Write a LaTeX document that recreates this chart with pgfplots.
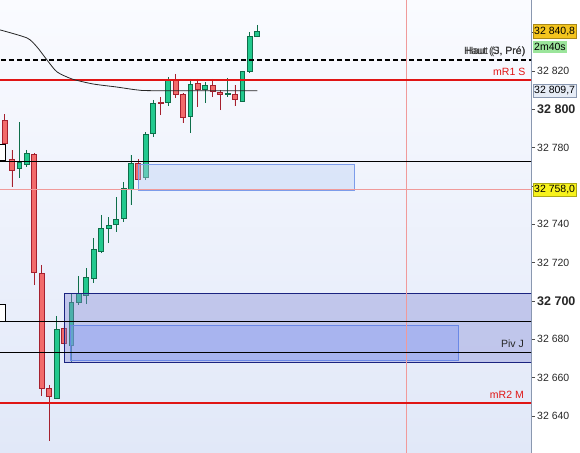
\documentclass[border=0pt]{standalone}
\usepackage{fontspec}
\setmainfont{Liberation Sans}
\usepackage{pgfplots}
\pgfplotsset{compat=1.18}
\usepgfplotslibrary{statistics}

\definecolor{gfill}{HTML}{22C98E}
\definecolor{gdark}{HTML}{0E6E4A}
\definecolor{rfill}{HTML}{F26B6B}
\definecolor{rdark}{HTML}{A5202E}
\definecolor{bgtop}{HTML}{FAFBFF}
\definecolor{bgbot}{HTML}{E1E8F8}
\definecolor{bigbox}{RGB}{134,140,214}
\definecolor{innerbox}{RGB}{132,155,246}
\definecolor{lightbox}{RGB}{187,208,246}
\definecolor{navy}{HTML}{1A2380}
\definecolor{innerborder}{HTML}{6A88E6}
\definecolor{lightborder}{HTML}{7C9CEA}
\definecolor{lred}{HTML}{E01515}
\definecolor{pinkline}{HTML}{F09A9A}
\definecolor{axisgray}{HTML}{8A98B0}
\definecolor{goldlab}{HTML}{F3C41E}
\definecolor{yellowlab}{HTML}{F7F21C}
\definecolor{greenlab}{HTML}{9BE59B}
\definecolor{graylab}{HTML}{E6ECF6}

% prices are stored as offsets from 32 700
% #1 position, #2 body low, #3 body high, #4 low, #5 high, #6 g or r
\newcommand{\candle}[6]{%
  \addplot[draw=#6dark, fill=#6fill, line width=0.8pt,
    boxplot prepared={draw position=#1, lower whisker=#4, lower quartile=#2,
      median=#2, upper quartile=#3, upper whisker=#5}] coordinates {};}

\begin{document}
\begin{tikzpicture}
\begin{axis}[
  name=ax, at={(0,0)}, anchor=south west,
  scale only axis, width=531pt, height=453pt,
  xmin=-0.605, xmax=70.81, ymin=-79.3, ymax=157.0,
  axis x line=none, axis y line*=right,
  axis line style={-, draw=axisgray, line width=0.9pt},
  axis background/.style={top color=bgtop, bottom color=bgbot},
  clip mode=individual,
  boxplot/draw direction=y,
  boxplot/box extend=0.66, boxplot/whisker extend=0,
  ytick={-60,-40,-20,0,20,40,60,80,100,120,140},
  yticklabels={32 640, 32 660, 32 680, {\fontsize{12.5}{13}\selectfont\bfseries 32 700}, 32 720, 32 740, {}, 32 780, {\fontsize{12.5}{13}\selectfont\bfseries 32 800}, 32 820, {}},
  yticklabel style={font=\fontsize{10.5}{12}\selectfont, text=black!85, anchor=west, inner sep=2pt},
  tick align=outside, major tick length=4pt,
  tick style={draw=black!70, line width=0.6pt},
]
% candles
\candle{0}{82.4}{94.4}{81.9}{97.5}{r}
\candle{1}{68.3}{73.6}{59.5}{78.8}{r}
\candle{2}{68.9}{72.5}{64.2}{93.4}{g}
\candle{3}{71.5}{77.2}{69.9}{78.8}{g}
\candle{4}{15.1}{76.7}{8.3}{77.2}{r}
\candle{5}{-45.4}{14.6}{-49.6}{18.8}{r}
\candle{6}{-49.6}{-45.4}{-73.0}{-43.8}{r}
\candle{7}{-50.6}{-14.6}{-51.1}{-7.8}{g}
\candle{8}{-21.9}{-14.1}{-23.0}{-13.0}{r}
\candle{9}{-23.0}{-0.5}{-32.3}{3.7}{g}
\candle{10}{-0.5}{4.2}{-2.1}{13.0}{g}
\candle{11}{3.1}{12.5}{-1.6}{17.2}{g}
\candle{12}{12.0}{27.1}{9.4}{32.9}{g}
\candle{13}{26.1}{37.6}{25.0}{44.9}{g}
\candle{14}{38.1}{39.6}{30.3}{43.8}{g}
\candle{15}{40.2}{42.8}{36.0}{54.3}{g}
\candle{16}{43.3}{58.9}{41.2}{62.1}{g}
\candle{17}{58.4}{72.0}{50.1}{76.2}{g}
\candle{18}{63.6}{72.0}{63.6}{74.1}{r}
\candle{19}{64.2}{87.1}{63.1}{88.0}{g}
\candle{20}{87.6}{103.3}{85.6}{104.9}{g}
\candle{21}{103.3}{103.8}{97.0}{106.4}{r}
\candle{22}{103.8}{115.8}{101.7}{116.8}{g}
\candle{23}{107.5}{114.8}{105.9}{118.4}{r}
\candle{24}{96.0}{107.5}{92.9}{108.5}{r}
\candle{25}{96.5}{113.2}{87.6}{115.8}{g}
\candle{26}{110.6}{113.7}{101.2}{115.8}{r}
\candle{27}{110.6}{112.7}{103.3}{114.2}{g}
\candle{28}{109.5}{112.2}{106.4}{115.8}{r}
\candle{29}{107.5}{109.0}{99.6}{110.1}{r}
\candle{30}{107.5}{108.5}{106.4}{116.3}{g}
\candle{31}{104.9}{108.0}{101.7}{112.7}{r}
\candle{32}{104.3}{119.5}{103.8}{120.0}{g}
\candle{33}{120.0}{138.2}{118.9}{140.3}{g}
\candle{34}{138.2}{140.8}{137.7}{144.0}{g}

% zones
\addplot[draw=navy, line width=0.9pt, fill=bigbox, fill opacity=0.4] coordinates {(8.0,-32.3) (72,-32.3) (72,3.7) (8.0,3.7)} -- cycle;
\addplot[draw=innerborder, line width=0.8pt, fill=innerbox, fill opacity=0.4] coordinates {(8.81,-30.8) (61.0,-30.8) (61.0,-13.0) (8.81,-13.0)} -- cycle;
\addplot[draw=lightborder, line width=0.8pt, fill=lightbox, fill opacity=0.4] coordinates {(17.96,57.9) (47.0,57.9) (47.0,71.5) (17.96,71.5)} -- cycle;
\addplot[draw=black, line width=0.7pt, fill=white] coordinates {(-1,73.6) (0.07,73.6) (0.07,81.9) (-1,81.9)} -- cycle;
\addplot[draw=black, line width=0.7pt, fill=white] coordinates {(-1,-10.4) (0.07,-10.4) (0.07,-1.6) (-1,-1.6)} -- cycle;

% lines
\addplot[pinkline, line width=0.8pt] coordinates {(54.0,-100) (54.0,200)};
\addplot[pinkline, line width=0.8pt] coordinates {(-1,58.0) (72,58.0)};
\addplot[black, line width=0.8pt] coordinates {(-1,73.0) (72,73.0)};
\addplot[black, line width=0.8pt] coordinates {(-1,-10.4) (72,-10.4)};
\addplot[black, line width=0.8pt] coordinates {(-1,-26.6) (72,-26.6)};
\addplot[black, line width=1.6pt, dash pattern=on 5pt off 3pt] coordinates {(-0.5,125.7) (72,125.7)};
\addplot[lred, line width=2.6pt] coordinates {(-1,115.3) (72,115.3)};
\addplot[lred, line width=2.6pt] coordinates {(-1,-53.2) (72,-53.2)};
% moving average
\addplot[black!85, line width=0.8pt, smooth, tension=0.4] coordinates {(-0.605,141.4) (3.03,137.2) (4.37,132.5) (5.72,125.7) (7.06,119.5) (9.08,115.8) (11.9,113.2) (15.1,111.6) (17.8,110.1) (20.0,109.7) (34.0,109.7)};

% in-chart labels
\node[anchor=south east, inner sep=1pt, font=\fontsize{10.5}{12}\selectfont, text=black!80] at (axis cs:70.2,127.0) {Haut (J, Pré)};
\node[anchor=south east, inner sep=1pt, font=\fontsize{10.5}{12}\selectfont, text=black!80] at (axis cs:70.2,127.0) {Haut (S, Pré)};
\node[anchor=south east, inner sep=1pt, font=\fontsize{10.5}{12}\selectfont, text=lred] at (axis cs:70.2,116.8) {mR1 S};
\node[anchor=south east, inner sep=1pt, font=\fontsize{10.5}{12}\selectfont, text=black!85] at (axis cs:70.0,-25.2) {Piv J};
\node[anchor=south east, inner sep=1pt, font=\fontsize{10.5}{12}\selectfont, text=lred] at (axis cs:70.0,-51.6) {mR2 M};

% right-side value labels
\node[anchor=west, xshift=1.5pt, inner xsep=1.5pt, inner ysep=2.5pt, fill=goldlab, draw=goldlab!70!black, font=\fontsize{10.5}{12}\selectfont] at (axis cs:70.81,140.8) {32 840,8};
\node[anchor=west, xshift=1.5pt, inner xsep=1.5pt, inner ysep=2.5pt, fill=greenlab, font=\fontsize{10.5}{12}\selectfont] at (axis cs:70.81,132.6) {2m40s};
\node[anchor=west, xshift=1.5pt, inner xsep=1.5pt, inner ysep=2.5pt, fill=graylab, draw=axisgray, font=\fontsize{10.5}{12}\selectfont] at (axis cs:70.81,109.7) {32 809,7};
\node[anchor=west, xshift=1.5pt, inner xsep=1.5pt, inner ysep=2.5pt, fill=yellowlab, draw=yellowlab!70!black, font=\fontsize{10.5}{12}\selectfont] at (axis cs:70.81,58.0) {32 758,0};
\end{axis}
\pgfresetboundingbox
\path (ax.south west) rectangle ([xshift=49pt]ax.north east);
\end{tikzpicture}
\end{document}
